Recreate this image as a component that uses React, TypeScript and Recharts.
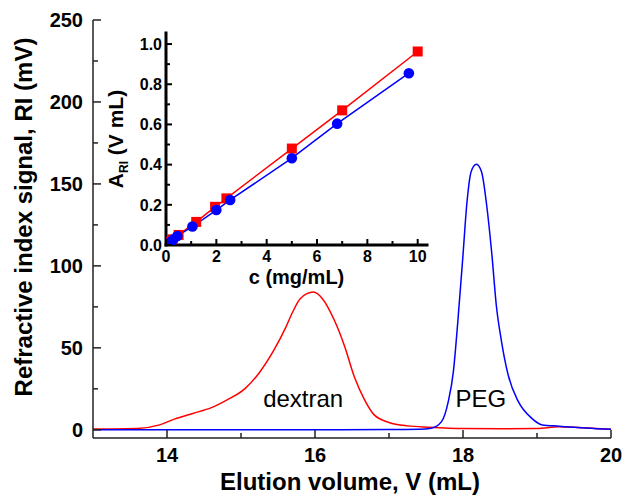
import { ComposedChart, Line, XAxis, YAxis, Label, ReferenceDot } from "recharts";

const FONT = '"Liberation Sans", Arial, Helvetica, sans-serif';
const RED = "#ff0000";
const BLUE = "#0000ff";

// dextran chromatogram, elution volume (mL) vs RI signal (mV)
const dextranVolume = [13.0, 13.3, 13.6, 13.9, 14.1, 14.35, 14.6, 14.8, 15.05, 15.25, 15.45, 15.6, 15.7, 15.8, 15.98, 16.1, 16.26, 16.4, 16.53, 16.67, 16.8, 17.0, 17.25, 17.55, 18.0, 18.5, 19.0, 19.3, 19.5, 19.8, 20.0];
const dextranSignal = [0.5, 0.5, 0.8, 3, 6.5, 10, 13.5, 18, 25, 35, 49, 62, 72, 80, 84, 80, 67, 51, 32.5, 18.3, 9.1, 4.5, 2.4, 1.6, 0.8, 0.6, 0.8, 1.8, 1.6, 0.8, 0.4];

// PEG chromatogram
const pegVolume = [13.0, 15.0, 17.0, 17.4, 17.57, 17.71, 17.8, 17.87, 17.93, 18.0, 18.05, 18.11, 18.18, 18.25, 18.32, 18.39, 18.45, 18.52, 18.61, 18.75, 18.93, 19.07, 19.3, 19.5, 19.8, 20.0];
const pegSignal = [0, 0, 0.2, 0.4, 1, 5, 17, 35.5, 66, 106.7, 137, 157.5, 162, 157.5, 137, 107, 76, 54, 33.5, 17, 7, 3, 2.2, 1.5, 0.7, 0.4];

const mainXTicks = [14, 15, 16, 17, 18, 19, 20];
const mainYTicks = [0, 25, 50, 75, 100, 125, 150, 175, 200, 225, 250];

// inset: peak area vs concentration
const dextranConc = [0.15, 0.25, 0.5, 1.2, 1.95, 2.4, 5.0, 7.0, 10.0];
const dextranArea = [0.015, 0.028, 0.05, 0.115, 0.19, 0.232, 0.48, 0.67, 0.963];
const pegConc = [0.1, 0.2, 0.3, 0.45, 1.05, 2.0, 2.55, 5.0, 6.8, 9.65];
const pegArea = [0.008, 0.017, 0.028, 0.045, 0.092, 0.174, 0.224, 0.432, 0.604, 0.855];

const insetXTicks = [0, 1, 2, 3, 4, 5, 6, 7, 8, 9, 10];
const insetYTicks = [0, 0.1, 0.2, 0.3, 0.4, 0.5, 0.6, 0.7, 0.8, 0.9, 1.0];

const zip = (xs: number[], ys: number[]) => xs.map((x, i) => ({ x, y: ys[i] }));

const dextranData = zip(dextranVolume, dextranSignal);
const pegData = zip(pegVolume, pegSignal);
const dextranInset = zip(dextranConc, dextranArea);
const pegInset = zip(pegConc, pegArea);

type TickOpts = {
  side: "bottom" | "top" | "left" | "right";
  isMajor: (v: number) => boolean;
  major: number;
  minor: number;
  sw: number;
  color: string;
  fmt?: (v: number) => string;
  fs?: number;
  gap?: number;
};

const makeTick = (o: TickOpts) => (props: any) => {
  const { x, y, payload, index } = props;
  const v = payload.value;
  const big = o.isMajor(v);
  const len = big ? o.major : o.minor;
  let x2 = x, y2 = y;
  if (o.side === "bottom") y2 = y - len;
  if (o.side === "top") y2 = y + len;
  if (o.side === "left") x2 = x + len;
  if (o.side === "right") x2 = x - len;
  let text = null;
  if (o.fmt && big) {
    const fs = o.fs || 14;
    if (o.side === "bottom") {
      text = (
        <text x={x} y={y + (o.gap || 0)} textAnchor="middle" fontSize={fs} fontWeight="bold" fontFamily={FONT} fill="#000">
          {o.fmt(v)}
        </text>
      );
    } else {
      text = (
        <text x={x - (o.gap || 0)} y={y + fs * 0.36} textAnchor="end" fontSize={fs} fontWeight="bold" fontFamily={FONT} fill="#000">
          {o.fmt(v)}
        </text>
      );
    }
  }
  return (
    <g key={`t-${o.side}-${index}`}>
      <line x1={x} y1={y} x2={x2} y2={y2} stroke={o.color} strokeWidth={o.sw} />
      {text}
    </g>
  );
};

const evenInt = (v: number) => Math.abs(v % 2) < 1e-6;
const every50 = (v: number) => Math.abs(v % 50) < 1e-6;
const evenTenth = (v: number) => Math.abs(Math.round(v * 10) % 2) === 0;

const FRAME = "#222";
const INSET = "#000";

const mainBottom = makeTick({ side: "bottom", isMajor: evenInt, major: 8, minor: 5, sw: 1.5, color: FRAME, fmt: (v) => String(v), fs: 20, gap: 24 });
const mainTop = makeTick({ side: "top", isMajor: evenInt, major: 8, minor: 5, sw: 1.5, color: FRAME });
const mainLeft = makeTick({ side: "left", isMajor: every50, major: 8, minor: 5, sw: 1.5, color: FRAME, fmt: (v) => String(v), fs: 20, gap: 10 });
const mainRight = makeTick({ side: "right", isMajor: every50, major: 8, minor: 5, sw: 1.5, color: FRAME });

const insetBottom = makeTick({ side: "bottom", isMajor: evenInt, major: 6, minor: 4, sw: 2, color: INSET, fmt: (v) => String(v), fs: 16, gap: 17 });
const insetTop = makeTick({ side: "top", isMajor: evenInt, major: 6, minor: 4, sw: 2, color: INSET });
const insetLeft = makeTick({ side: "left", isMajor: evenTenth, major: 6, minor: 4, sw: 2, color: INSET, fmt: (v) => v.toFixed(1), fs: 16, gap: 4 });
const insetRight = makeTick({ side: "right", isMajor: evenTenth, major: 6, minor: 4, sw: 2, color: INSET });

const mainXTitle = (p: any) => {
  const vb = p.viewBox || { x: 93, y: 438, width: 518, height: 58 };
  return (
    <text x={vb.x + vb.width / 2 - 2} y={vb.y + 52} textAnchor="middle" fontSize={24} fontWeight="bold" fontFamily={FONT} fill="#000">
      Elution volume, V (mL)
    </text>
  );
};

const mainYTitle = (p: any) => {
  const vb = p.viewBox || { x: 0, y: 20, width: 93, height: 418 };
  const cx = vb.x + 32;
  const cy = vb.y + vb.height / 2 - 12;
  return (
    <text x={cx} y={cy} transform={`rotate(-90 ${cx} ${cy})`} textAnchor="middle" fontSize={24} fontWeight="bold" fontFamily={FONT} fill="#000">
      Refractive index signal, RI (mV)
    </text>
  );
};

const insetXTitle = (p: any) => {
  const vb = p.viewBox || { x: 166, y: 245, width: 261, height: 251 };
  return (
    <text x={vb.x + vb.width / 2} y={vb.y + 39} textAnchor="middle" fontSize={20} fontWeight="bold" fontFamily={FONT} fill="#000">
      c (mg/mL)
    </text>
  );
};

const insetYTitle = (p: any) => {
  const vb = p.viewBox || { x: 0, y: 33, width: 166, height: 212 };
  const cx = 123;
  const cy = vb.y + vb.height / 2;
  return (
    <text x={cx} y={cy} transform={`rotate(-90 ${cx} ${cy})`} textAnchor="middle" fontSize={21} fontWeight="bold" fontFamily={FONT} fill="#000">
      A
      <tspan fontSize={12} dy={5}>RI</tspan>
      <tspan dy={-5}> (V mL)</tspan>
    </text>
  );
};

const peakLabel = (text: string) => (p: any) => {
  const vb = p.viewBox || { x: 0, y: 0 };
  return (
    <text x={vb.x} y={vb.y} textAnchor="middle" fontSize={24} fontFamily={FONT} fill="#000">
      {text}
    </text>
  );
};

const squareDot = (p: any) => (
  <rect key={`sq-${p.index}`} x={p.cx - 5} y={p.cy - 5} width={10} height={10} fill={RED} />
);
const circleDot = (p: any) => (
  <circle key={`ci-${p.index}`} cx={p.cx} cy={p.cy} r={5.3} fill={BLUE} />
);

const App = () => {
  return (
    <div style={{ position: "fixed", left: 0, top: 0, width: 625, height: 496, background: "#fff" }}>
      <div style={{ position: "absolute", left: 0, top: 0 }}>
        <ComposedChart width={625} height={496} margin={{ top: 20, right: 14, bottom: 0, left: 0 }}>
          <XAxis
            type="number"
            dataKey="x"
            domain={[13, 20]}
            ticks={mainXTicks}
            interval={0}
            height={58}
            tickSize={0}
            tickMargin={0}
            tick={mainBottom}
            axisLine={{ stroke: FRAME, strokeWidth: 1.5 }}
            allowDataOverflow
          >
            <Label content={mainXTitle} />
          </XAxis>
          <XAxis
            xAxisId="top"
            orientation="top"
            type="number"
            domain={[13, 20]}
            ticks={mainXTicks}
            interval={0}
            height={0}
            tickSize={0}
            tickMargin={0}
            tick={mainTop}
            axisLine={{ stroke: FRAME, strokeWidth: 1.5 }}
            allowDataOverflow
          />
          <YAxis
            type="number"
            domain={[-5, 250]}
            ticks={mainYTicks}
            interval={0}
            width={93}
            tickSize={0}
            tickMargin={0}
            tick={mainLeft}
            axisLine={{ stroke: FRAME, strokeWidth: 1.5 }}
            allowDataOverflow
          >
            <Label content={mainYTitle} />
          </YAxis>
          <YAxis
            yAxisId="right"
            orientation="right"
            type="number"
            domain={[-5, 250]}
            ticks={mainYTicks}
            interval={0}
            width={0}
            tickSize={0}
            tickMargin={0}
            tick={mainRight}
            axisLine={{ stroke: FRAME, strokeWidth: 1.5 }}
            allowDataOverflow
          />
          <Line data={dextranData} dataKey="y" type="monotone" stroke={RED} strokeWidth={1.5} dot={false} isAnimationActive={false} />
          <Line data={pegData} dataKey="y" type="monotone" stroke={BLUE} strokeWidth={1.5} dot={false} isAnimationActive={false} />
          <ReferenceDot x={15.84} y={14} r={0} fill="none" stroke="none" label={{ content: peakLabel("dextran") }} />
          <ReferenceDot x={18.24} y={14} r={0} fill="none" stroke="none" label={{ content: peakLabel("PEG") }} />
        </ComposedChart>
      </div>
      <div style={{ position: "absolute", left: 0, top: 0 }}>
        <ComposedChart width={625} height={496} margin={{ top: 33, right: 198, bottom: 0, left: 0 }}>
          <XAxis
            type="number"
            dataKey="x"
            domain={[0, 10.37]}
            ticks={insetXTicks}
            interval={0}
            height={251}
            tickSize={0}
            tickMargin={0}
            tick={insetBottom}
            axisLine={{ stroke: INSET, strokeWidth: 3, strokeLinecap: "square" }}
            allowDataOverflow
          >
            <Label content={insetXTitle} />
          </XAxis>
          <XAxis
            xAxisId="top"
            orientation="top"
            type="number"
            domain={[0, 10.37]}
            ticks={insetXTicks}
            interval={0}
            height={0}
            tickSize={0}
            tickMargin={0}
            tick={insetTop}
            axisLine={{ stroke: INSET, strokeWidth: 3, strokeLinecap: "square" }}
            allowDataOverflow
          />
          <YAxis
            type="number"
            domain={[0, 1.055]}
            ticks={insetYTicks}
            interval={0}
            width={166}
            tickSize={0}
            tickMargin={0}
            tick={insetLeft}
            axisLine={{ stroke: INSET, strokeWidth: 3, strokeLinecap: "square" }}
            allowDataOverflow
          >
            <Label content={insetYTitle} />
          </YAxis>
          <YAxis
            yAxisId="right"
            orientation="right"
            type="number"
            domain={[0, 1.055]}
            ticks={insetYTicks}
            interval={0}
            width={0}
            tickSize={0}
            tickMargin={0}
            tick={insetRight}
            axisLine={{ stroke: INSET, strokeWidth: 3, strokeLinecap: "square" }}
            allowDataOverflow
          />
          <Line data={dextranInset} dataKey="y" type="linear" stroke={RED} strokeWidth={1.5} dot={squareDot} isAnimationActive={false} />
          <Line data={pegInset} dataKey="y" type="linear" stroke={BLUE} strokeWidth={1.5} dot={circleDot} isAnimationActive={false} />
        </ComposedChart>
      </div>
    </div>
  );
};

export default App;
